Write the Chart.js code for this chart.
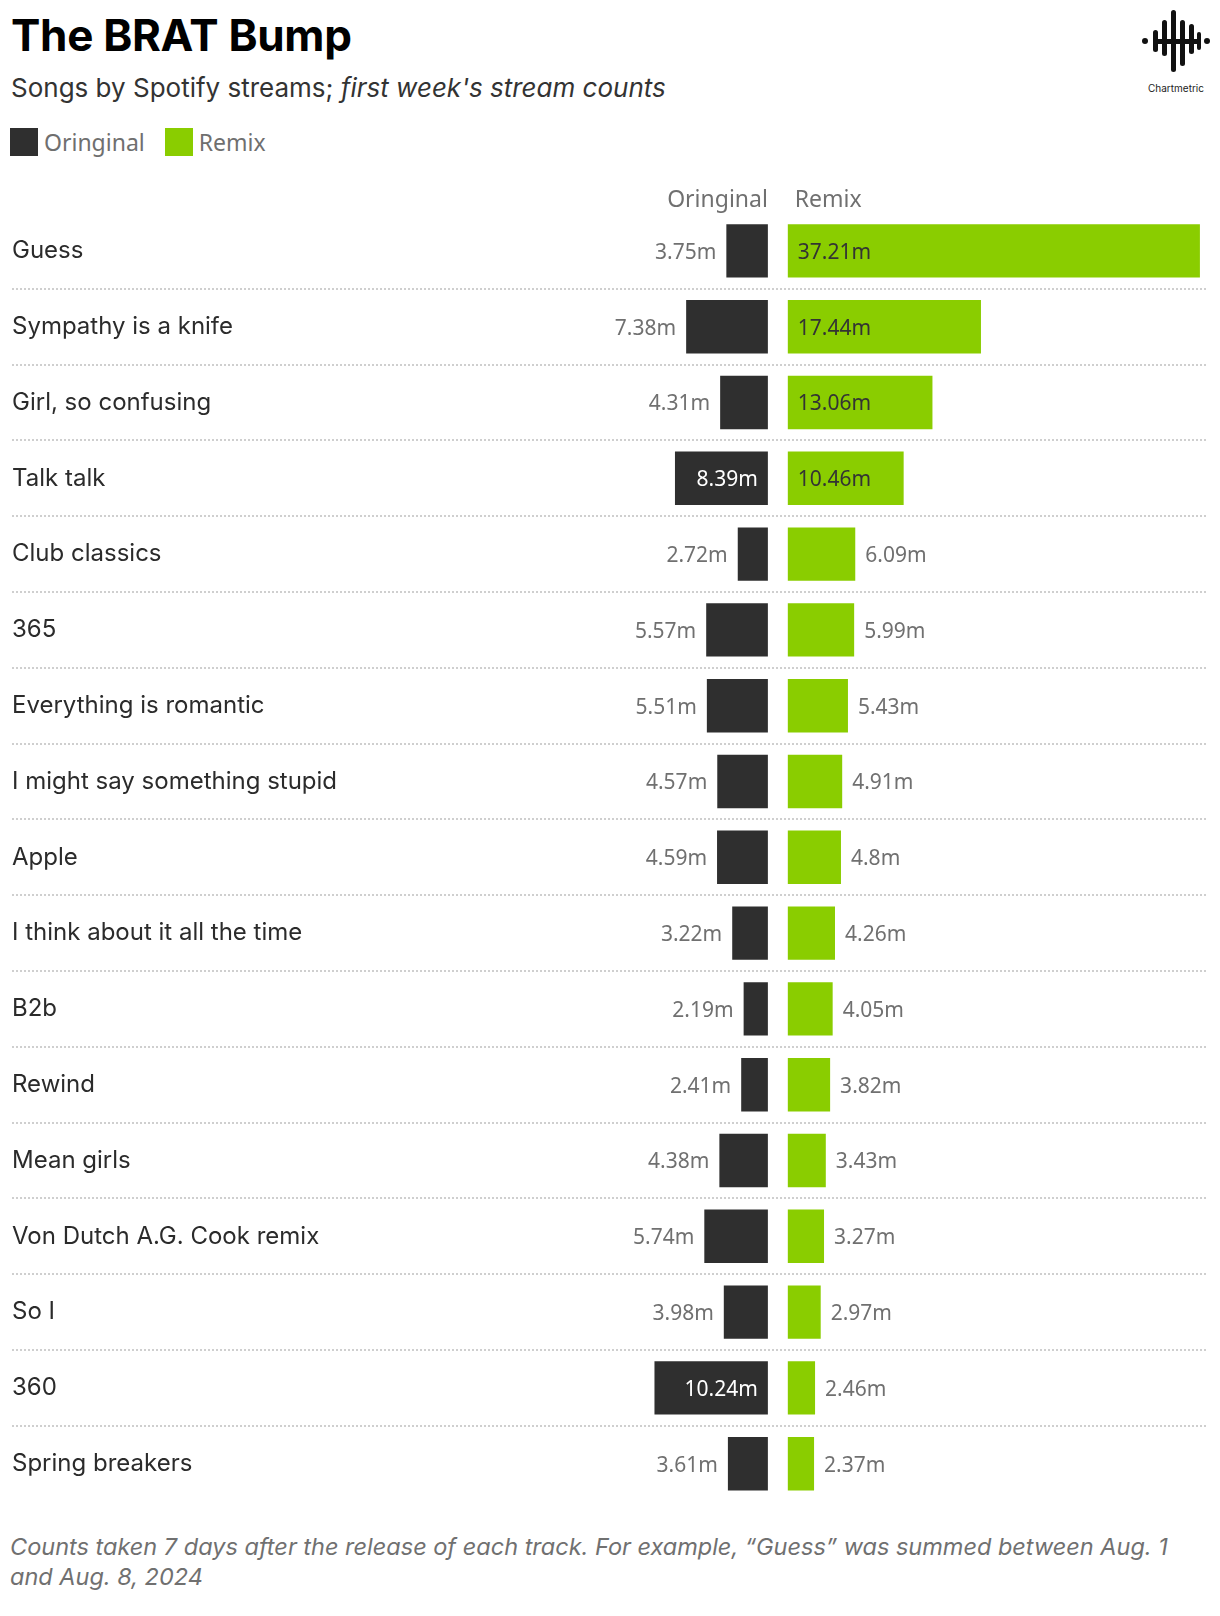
<!DOCTYPE html>
<html>
<head>
<meta charset="utf-8">
<script src="https://cdn.jsdelivr.net/npm/chart.js@4"></script>
<style>
  body { margin: 0; background: #fff; font-family: Inter, "Noto Sans", sans-serif; }
  #page { position: relative; width: 1220px; height: 1616px; }
  .title { position: absolute; left: 11px; top: 8px; font-size: 44px; font-weight: 700; color: #000; letter-spacing: -0.3px; }
  .sub { position: absolute; left: 11px; top: 72px; font-size: 26px; color: #333; }
  .legend { position: absolute; left: 10px; top: 126px; font-size: 23px; font-family: "Noto Sans", sans-serif; color: #6f6f6f; display: flex; align-items: center; }
  .legend span.sw { display: inline-block; width: 28px; height: 28px; margin-right: 6px; }
  .legend span.lbl { margin-right: 20px; }
  .foot { position: absolute; left: 10px; top: 1532px; width: 1195px; font-size: 23.5px; line-height: 30px; font-style: italic; color: #707070; }
  .logo { position: absolute; left: 1136px; top: 8px; width: 80px; text-align: center; }
  .logo div { font-size: 10px; color: #222; margin-top: 4px; }
  #wrap { position: absolute; left: 0; top: 171px; width: 1220px; height: 1345px; }
</style>
</head>
<body>
<div id="page">
  <div class="title">The BRAT Bump</div>
  <div class="sub">Songs by Spotify streams; <i>first week's stream counts</i></div>
  <div class="legend">
    <span class="sw" style="background:#2f2f2f"></span><span class="lbl">Oringinal</span>
    <span class="sw" style="background:#8acd00"></span><span class="lbl">Remix</span>
  </div>
  <div class="logo">
    <svg width="70" height="66" viewBox="0 0 70 66">
      <g fill="#111">
        <circle cx="4" cy="33" r="3"/>
        <circle cx="66" cy="33" r="3"/>
        <rect x="12" y="22" width="5" height="22" rx="2.5"/>
        <rect x="21" y="12" width="5" height="36" rx="2.5"/>
        <rect x="30" y="2" width="5" height="62" rx="2.5"/>
        <rect x="39" y="12" width="5" height="46" rx="2.5"/>
        <rect x="48" y="16" width="5" height="30" rx="2.5"/>
        <rect x="56" y="24" width="4" height="18" rx="2"/>
        <rect x="14" y="31" width="44" height="5"/>
      </g>
    </svg>
    <div>Chartmetric</div>
  </div>
  <div id="wrap"><canvas id="chart"></canvas></div>
  <div class="foot">Counts taken 7 days after the release of each track. For example, “Guess” was summed between Aug. 1 and Aug. 8, 2024</div>
</div>
<script>
const songs = ['Guess', 'Sympathy is a knife', 'Girl, so confusing', 'Talk talk', 'Club classics', '365',
  'Everything is romantic', 'I might say something stupid', 'Apple', 'I think about it all the time', 'B2b',
  'Rewind', 'Mean girls', 'Von Dutch A.G. Cook remix', 'So I', '360', 'Spring breakers'];
const original = [3.75, 7.38, 4.31, 8.39, 2.72, 5.57, 5.51, 4.57, 4.59, 3.22, 2.19, 2.41, 4.38, 5.74, 3.98, 10.24, 3.61];
const remix = [37.21, 17.44, 13.06, 10.46, 6.09, 5.99, 5.43, 4.91, 4.8, 4.26, 4.05, 3.82, 3.43, 3.27, 2.97, 2.46, 2.37];
const seriesNames = ['Oringinal', 'Remix'];

const GAP = 0.9;       // half of the gap between the two sides, in millions
const INSIDE = 8;      // values above this get the label inside the bar
const DARK = '#2f2f2f', GREEN = '#8acd00', GREY = '#707070';
const NUM_FONT = '"Noto Sans", sans-serif';

const labelsPlugin = {
  id: 'brat',
  afterDatasetsDraw(chart) {
    const { ctx, scales: { x, y }, chartArea } = chart;
    ctx.save();
    // dotted row separators
    ctx.strokeStyle = '#cfcfcf';
    ctx.lineWidth = 2;
    ctx.setLineDash([2, 2]);
    for (let i = 0; i < songs.length - 1; i++) {
      const py = Math.round((y.getPixelForValue(i) + y.getPixelForValue(i + 1)) / 2);
      ctx.beginPath();
      ctx.moveTo(12, py);
      ctx.lineTo(1207, py);
      ctx.stroke();
    }
    ctx.setLineDash([]);

    // column headers
    ctx.font = '23px ' + NUM_FONT;
    ctx.fillStyle = GREY;
    ctx.textBaseline = 'middle';
    ctx.textAlign = 'right';
    ctx.fillText(seriesNames[0], x.getPixelForValue(-GAP), chartArea.top - 13);
    ctx.textAlign = 'left';
    ctx.fillText(seriesNames[1], x.getPixelForValue(GAP) + 7, chartArea.top - 13);

    // value labels
    ctx.font = '21px ' + NUM_FONT;
    songs.forEach((s, i) => {
      const py = y.getPixelForValue(i) + 2;
      const o = original[i];
      const oLeft = x.getPixelForValue(-GAP - o);
      const oRight = x.getPixelForValue(-GAP);
      ctx.textAlign = 'right';
      if (o > INSIDE) {
        ctx.fillStyle = '#ffffff';
        ctx.fillText(o + 'm', oRight - 10, py);
      } else {
        ctx.fillStyle = GREY;
        ctx.fillText(o + 'm', oLeft - 10, py);
      }
      const r = remix[i];
      const rLeft = x.getPixelForValue(GAP);
      const rRight = x.getPixelForValue(GAP + r);
      ctx.textAlign = 'left';
      if (r > INSIDE) {
        ctx.fillStyle = '#333333';
        ctx.fillText(r + 'm', rLeft + 10, py);
      } else {
        ctx.fillStyle = GREY;
        ctx.fillText(r + 'm', rRight + 10, py);
      }
    });
    ctx.restore();
  }
};

new Chart(document.getElementById('chart'), {
  type: 'bar',
  data: {
    labels: songs,
    datasets: [
      {
        label: seriesNames[0],
        data: original.map(v => [-GAP - v, -GAP]),
        backgroundColor: DARK
      },
      {
        label: seriesNames[1],
        data: remix.map(v => [GAP, GAP + v]),
        backgroundColor: GREEN
      }
    ]
  },
  options: {
    indexAxis: 'y',
    responsive: true,
    maintainAspectRatio: false,
    animation: false,
    grouped: false,
    barPercentage: 0.705,
    categoryPercentage: 1,
    layout: { padding: { top: 42, bottom: 11, left: 12, right: 13 } },
    plugins: {
      legend: { display: false },
      tooltip: { enabled: false }
    },
    scales: {
      x: {
        display: false,
        min: -38.0,
        max: 38.75
      },
      y: {
        grid: { display: false },
        border: { display: false },
        ticks: {
          crossAlign: 'far',
          padding: 0,
          color: '#2b2b2b',
          font: { size: 24, family: 'Inter, "Noto Sans", sans-serif' }
        },
        afterFit(scale) { scale.width = 345; }
      }
    }
  },
  plugins: [labelsPlugin]
});
</script>
</body>
</html>
